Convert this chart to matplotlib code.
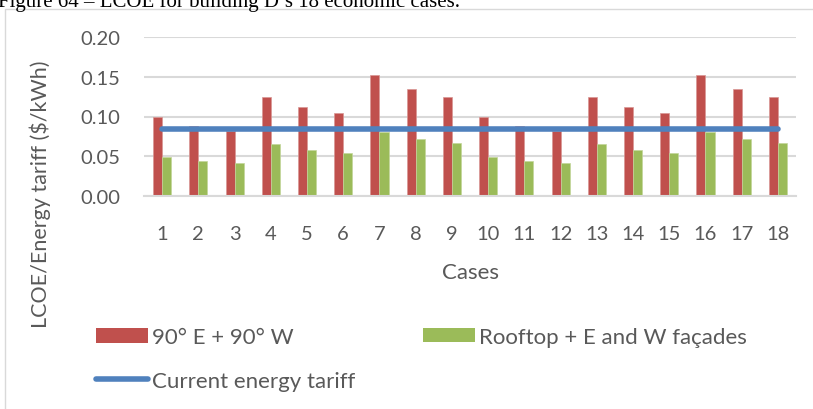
import matplotlib
matplotlib.use("Agg")
import matplotlib.pyplot as plt
import numpy as np
from matplotlib.lines import Line2D
from matplotlib.patches import Patch, Rectangle

# ---- data ----
cases = [str(i) for i in range(1, 19)]
east_west = [0.100, 0.088, 0.082, 0.125, 0.112, 0.104, 0.152, 0.135, 0.125,
             0.100, 0.088, 0.082, 0.125, 0.112, 0.104, 0.152, 0.135, 0.125]
rooftop_facades = [0.049, 0.044, 0.041, 0.065, 0.058, 0.054, 0.081, 0.072, 0.067,
                   0.049, 0.044, 0.041, 0.065, 0.058, 0.054, 0.081, 0.072, 0.067]
tariff = [0.084] * 18
yticks = [0.00, 0.05, 0.10, 0.15, 0.20]

RED = "#C0504D"
GREEN = "#9BBB59"
BLUE = "#4F81BD"
TEXT = "#595959"
GRID = "#D9D9D9"

plt.rcParams["font.family"] = ["Lato", "DejaVu Sans"]

W, H = 813, 410
fig = plt.figure(figsize=(W / 100, H / 100), dpi=100)
fig.patch.set_facecolor("white")

# outer chart frame (partly outside the crop)
fig.add_artist(Rectangle((5 / W, -0.1), 1.2, 1 - 10 / H + 0.1,
                         transform=fig.transFigure, fill=False,
                         edgecolor="#D9D9D9", linewidth=1.0))

# caption cut off at the top, as in the reference
fig.text(-2 / W, 1 - 7 / H, "Figure 64 \u2013 LCOE for building D\u2019s 18 economic cases.",
         family="Liberation Serif", fontsize=15, color="black",
         ha="left", va="baseline")

ax = fig.add_axes([144 / W, 1 - 197 / H, (796 - 144) / W, (197 - 38) / H])

x = np.arange(len(cases))
bw = 0.25
ax.bar(x - bw / 2, east_west, width=bw, color=RED, edgecolor="#D99694",
       linewidth=0.5, zorder=2)
ax.bar(x + bw / 2, rooftop_facades, width=bw, color=GREEN, edgecolor="#C3D69B",
       linewidth=0.5, zorder=2)
ax.plot(x, tariff, color=BLUE, linewidth=4, solid_capstyle="round", zorder=3)

ax.set_xlim(-0.5, len(cases) - 0.5)
ax.set_ylim(0, 0.2)
ax.set_yticks(yticks)
ax.set_yticklabels([f"{v:.2f}" for v in yticks])
ax.set_xticks(x)
ax.set_xticklabels(cases)
ax.tick_params(axis="both", length=0, labelsize=14.5, colors=TEXT)
ax.tick_params(axis="y", pad=17)
ax.tick_params(axis="x", pad=21)

ax.yaxis.grid(True, color=GRID, linewidth=1.5, zorder=0)
ax.set_axisbelow(True)
for s in ("top", "right", "left"):
    ax.spines[s].set_visible(False)
ax.spines["bottom"].set_color(GRID)
ax.spines["bottom"].set_linewidth(1.5)

ax.set_xlabel("Cases", fontsize=16, color=TEXT, labelpad=14)
fig.text(40 / W, 1 - 194 / H, "LCOE/Energy tariff ($/kWh)", rotation=90,
         fontsize=15.5, color=TEXT, ha="center", va="center")

legend_kw = dict(loc="center left", frameon=False, fontsize=16,
                 handlelength=2.35, handleheight=0.6, handletextpad=0.15,
                 labelspacing=1.05, borderaxespad=0, borderpad=0)

leg1 = fig.legend([Patch(facecolor=RED),
                   Line2D([], [], color=BLUE, linewidth=4, solid_capstyle="round")],
                  ["90\u00b0 E + 90\u00b0 W", "Current energy tariff"],
                  bbox_to_anchor=(96 / W, 1 - 360 / H), **legend_kw)
leg2 = fig.legend([Patch(facecolor=GREEN)],
                  ["Rooftop + E and W fa\u00e7ades"],
                  bbox_to_anchor=(423 / W, 1 - 338 / H), **legend_kw)
for leg in (leg1, leg2):
    for t in leg.get_texts():
        t.set_color(TEXT)

fig.savefig("out.png", dpi=100, facecolor="white")
